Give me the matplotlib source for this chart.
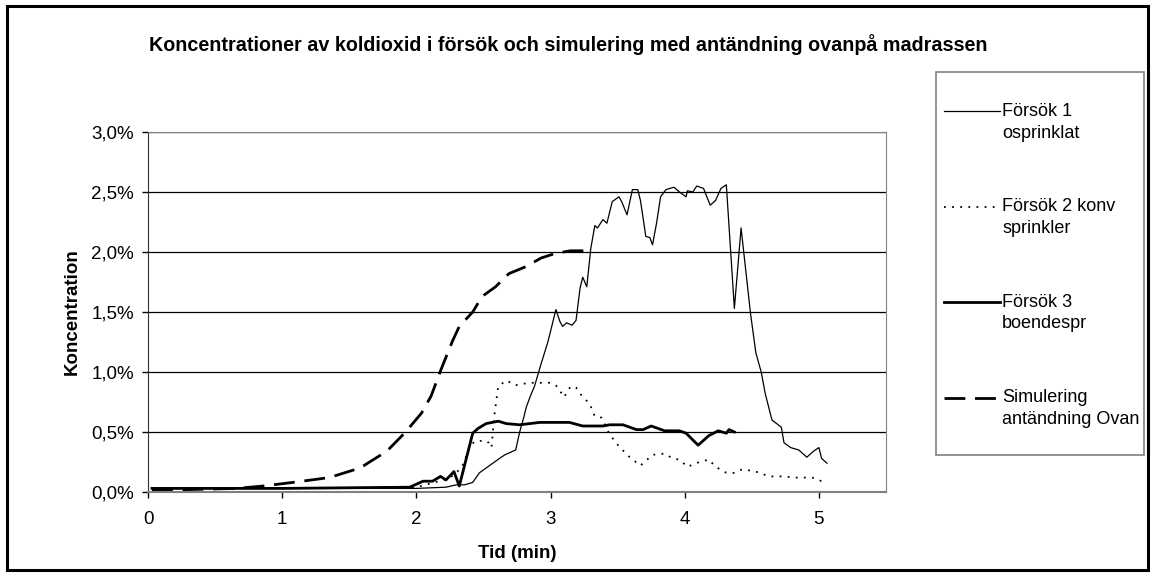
import numpy as np
import matplotlib
matplotlib.use("Agg")
import matplotlib.pyplot as plt
from matplotlib.legend_handler import HandlerLine2D
from matplotlib.patches import Rectangle
from matplotlib.ticker import FuncFormatter

plt.rcParams['font.family'] = ['Liberation Sans', 'DejaVu Sans']

# Försök 1 osprinklat
t1 = [0.03, 0.5, 1.0, 1.5, 2.0, 2.22, 2.30, 2.36, 2.42, 2.47, 2.52, 2.57, 2.62, 2.66, 2.70,
      2.74, 2.77, 2.80, 2.82, 2.85, 2.88, 2.93, 2.98, 3.04, 3.07, 3.09, 3.12, 3.16, 3.19, 3.22,
      3.24, 3.27, 3.30, 3.33, 3.35, 3.39, 3.42, 3.46, 3.51, 3.53, 3.57, 3.61, 3.65, 3.67, 3.71,
      3.74, 3.76, 3.79, 3.82, 3.86, 3.92, 3.96, 4.01, 4.02, 4.06, 4.09, 4.14, 4.19, 4.23, 4.27,
      4.31, 4.37, 4.42, 4.49, 4.53, 4.57, 4.60, 4.65, 4.72, 4.74, 4.79, 4.85, 4.91, 4.96, 5.00,
      5.02, 5.06]
c1 = [0.03, 0.03, 0.03, 0.03, 0.03, 0.04, 0.06, 0.06, 0.08, 0.16, 0.20, 0.24, 0.28, 0.31, 0.33,
      0.35, 0.50, 0.62, 0.71, 0.80, 0.88, 1.07, 1.25, 1.52, 1.42, 1.38, 1.41, 1.39, 1.43, 1.70,
      1.79, 1.71, 2.03, 2.22, 2.20, 2.27, 2.24, 2.42, 2.46, 2.42, 2.31, 2.52, 2.52, 2.43, 2.13,
      2.12, 2.06, 2.24, 2.46, 2.52, 2.54, 2.50, 2.46, 2.51, 2.50, 2.55, 2.53, 2.39, 2.43, 2.53,
      2.56, 1.53, 2.20, 1.49, 1.16, 1.00, 0.82, 0.60, 0.54, 0.41, 0.37, 0.35, 0.29, 0.34, 0.37,
      0.28, 0.24]

# Försök 2 konv sprinkler
t2 = [0.03, 1.0, 2.0, 2.2, 2.28, 2.34, 2.39, 2.43, 2.51, 2.54, 2.56, 2.58, 2.61, 2.67, 2.74,
      2.84, 2.99, 3.05, 3.10, 3.15, 3.19, 3.24, 3.29, 3.33, 3.38, 3.44, 3.51, 3.59, 3.67, 3.76,
      3.85, 3.91, 3.96, 4.02, 4.11, 4.18, 4.23, 4.31, 4.37, 4.43, 4.53, 4.63, 4.73, 4.83, 4.95,
      5.02]
c2 = [0.03, 0.03, 0.04, 0.10, 0.14, 0.21, 0.35, 0.42, 0.43, 0.41, 0.37, 0.63, 0.88, 0.93, 0.89,
      0.91, 0.91, 0.88, 0.79, 0.88, 0.87, 0.79, 0.74, 0.63, 0.62, 0.48, 0.38, 0.29, 0.22, 0.31,
      0.32, 0.28, 0.27, 0.21, 0.25, 0.27, 0.21, 0.16, 0.16, 0.19, 0.17, 0.13, 0.13, 0.12, 0.12,
      0.09]

# Försök 3 boendespr
t3 = [0.03, 1.0, 1.95, 2.05, 2.12, 2.18, 2.22, 2.28, 2.32, 2.42, 2.46, 2.52, 2.61, 2.67, 2.77,
      2.92, 3.14, 3.24, 3.39, 3.44, 3.54, 3.64, 3.69, 3.75, 3.85, 3.96, 4.01, 4.10, 4.18, 4.25,
      4.31, 4.33, 4.37]
c3 = [0.03, 0.03, 0.04, 0.09, 0.09, 0.13, 0.10, 0.17, 0.05, 0.49, 0.53, 0.57, 0.59, 0.57, 0.56,
      0.58, 0.58, 0.55, 0.55, 0.56, 0.56, 0.52, 0.52, 0.55, 0.51, 0.51, 0.49, 0.39, 0.47, 0.51,
      0.49, 0.52, 0.50]

# Simulering antändning Ovan
t4 = [0.03, 0.3, 0.66, 0.86, 1.08, 1.35, 1.58, 1.78, 1.92, 2.04, 2.11, 2.18, 2.27, 2.32, 2.42,
      2.49, 2.59, 2.69, 2.82, 2.93, 3.04, 3.15, 3.30]
c4 = [0.02, 0.02, 0.03, 0.05, 0.08, 0.12, 0.20, 0.34, 0.50, 0.66, 0.80, 1.01, 1.26, 1.38, 1.50,
      1.63, 1.71, 1.82, 1.88, 1.95, 1.99, 2.01, 2.01]

labels = ["Försök 1\nosprinklat", "Försök 2 konv\nsprinkler", "Försök 3\nboendespr",
          "Simulering\nantändning Ovan"]
title = "Koncentrationer av koldioxid i försök och simulering med antändning ovanpå madrassen"

W, H = 1155, 576
fig = plt.figure(figsize=(W / 100, H / 100), dpi=100)
ax = fig.add_axes([148 / W, 1 - 492 / H, (886 - 148) / W, 360 / H])

l1, = ax.plot(t1, c1, color="black", lw=0.9)
l2, = ax.plot(t2, c2, color="black", lw=1.3, dashes=(1, 3.5))
l3, = ax.plot(t3, c3, color="black", lw=2.0)
l4, = ax.plot(t4, c4, color="black", lw=2.0, dashes=(7.5, 3.5))

ax.set_xlim(0, 5.5)
ax.set_ylim(0, 3.0)
ax.set_xticks([0, 1, 2, 3, 4, 5])
ax.set_yticks(np.arange(0, 3.01, 0.5))
ax.yaxis.set_major_formatter(FuncFormatter(lambda v, p: ("%.1f%%" % v).replace(".", ",")))
ax.tick_params(direction="out", length=4, width=1, labelsize=13.5, pad=6)
ax.tick_params(axis="x", pad=10)
ax.grid(axis="y", color="black", lw=0.9)
ax.set_axisbelow(True)
for s in ["top", "right", "bottom"]:
    ax.spines[s].set_color("#808080")
ax.spines["bottom"].set_linewidth(1.5)
ax.spines["left"].set_color("#303030")

fig.text(568 / W, 1 - 45 / H, title, ha="center", va="center", fontsize=14.2, fontweight="bold")
fig.text(517 / W, 1 - 553 / H, "Tid (min)", ha="center", va="center", fontsize=13.5,
         fontweight="bold")
fig.text(72 / W, 1 - 312 / H, "Koncentration", ha="center", va="center", rotation=90,
         fontsize=13.5, fontweight="bold")


class FirstLineHandler(HandlerLine2D):
    def create_artists(self, legend, orig_handle, xdescent, ydescent, width, height,
                       fontsize, trans):
        arts = super().create_artists(legend, orig_handle, xdescent, ydescent, width,
                                      height, fontsize, trans)
        for a in arts:
            a.set_ydata(np.asarray(a.get_ydata()) + 0.62 * fontsize)
        return arts


h = FirstLineHandler()
leg = fig.legend([l1, l2, l3, l4], labels, loc="upper left",
                 bbox_to_anchor=(944 / W, 1 - 103 / H), fontsize=13, frameon=False,
                 borderaxespad=0, borderpad=0, handlelength=3.1, handletextpad=0.12,
                 labelspacing=3.15, handler_map={l1: h, l2: h, l3: h, l4: h})
for txt in leg.get_texts():
    txt.set_linespacing(1.35)

# legend box
fig.patches.append(Rectangle((936 / W, 1 - 455 / H), (1144 - 936) / W, (455 - 72) / H,
                             transform=fig.transFigure, fill=False, edgecolor="#808080",
                             lw=1.2))
# chart border
fig.patches.append(Rectangle((7 / W, 6 / H), (1148 - 7) / W, (570 - 6) / H,
                             transform=fig.transFigure, fill=False, edgecolor="black", lw=2.2))

fig.savefig("out.png", dpi=100)
